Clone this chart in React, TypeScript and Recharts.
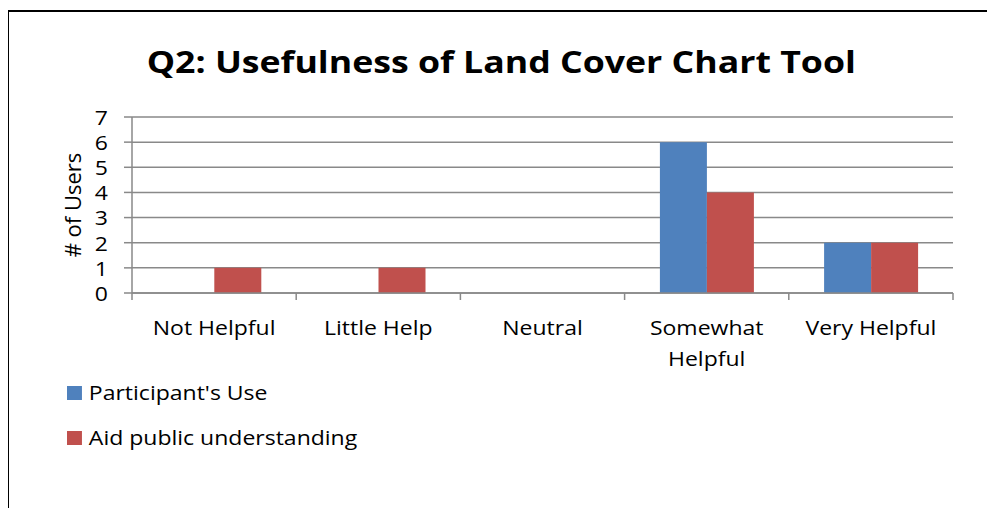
import React from "react";
import { BarChart, Bar, XAxis, YAxis, CartesianGrid } from "recharts";

const categories = ["Not Helpful", "Little Help", "Neutral", "Somewhat Helpful", "Very Helpful"];
const participantUse = [0, 0, 0, 6, 2];
const aidPublic = [1, 1, 0, 4, 2];
const yTicks = [0, 1, 2, 3, 4, 5, 6, 7];

const seriesNames = ["Participant's Use", "Aid public understanding"];
const seriesColors = ["#4F81BD", "#C0504D"];

const data = categories.map((name, i) => ({
  name,
  use: participantUse[i],
  aid: aidPublic[i],
}));

const FONT = "'Open Sans', sans-serif";
const AXIS_GREY = "#898989";
const STRETCH = 1.15; // glyphs are drawn a little wider than the font's natural width
const W = 987;
const H = 500;

// long category names go onto two lines
function splitLabel(s: string) {
  if (s.length <= 14) return [s];
  const i = s.indexOf(" ");
  return [s.slice(0, i), s.slice(i + 1)];
}

function stretchAt(x: number, y: number) {
  return `translate(${x} ${y}) scale(${STRETCH} 1) translate(${-x} ${-y})`;
}

// category label under each band, plus tick marks on the band edges
function CategoryTick(props: any) {
  const { x, y, payload, index, visibleTicksCount } = props;
  const half = payload.offset ?? 0;
  const top = y - 8;
  const lines = splitLabel(String(payload.value));
  return (
    <g>
      <line x1={x - half} y1={top} x2={x - half} y2={top + 7} stroke={AXIS_GREY} strokeWidth={1.5} />
      {index === visibleTicksCount - 1 && (
        <line x1={x + half} y1={top} x2={x + half} y2={top + 7} stroke={AXIS_GREY} strokeWidth={1.5} />
      )}
      <text
        x={x}
        y={top + 42}
        textAnchor="middle"
        fill="#000"
        transform={stretchAt(x, top)}
        style={{ fontFamily: FONT, fontSize: 20 }}
      >
        {lines.map((l, k) => (
          <tspan key={k} x={x} dy={k === 0 ? 0 : 31}>
            {l}
          </tspan>
        ))}
      </text>
    </g>
  );
}

function ValueTick(props: any) {
  const { x, y, payload } = props;
  return (
    <text
      x={x}
      y={y}
      textAnchor="end"
      dominantBaseline="central"
      fill="#000"
      transform={stretchAt(x, y)}
      style={{ fontFamily: FONT, fontSize: 20 }}
    >
      {payload.value}
    </text>
  );
}

function LegendBox() {
  return (
    <div
      style={{
        position: "absolute",
        left: 59,
        top: 362,
        fontFamily: FONT,
        fontSize: 20,
        color: "#000",
        transform: `scaleX(${STRETCH})`,
        transformOrigin: "0 0",
      }}
    >
      {seriesNames.map((n, i) => (
        <div key={n} style={{ display: "flex", alignItems: "center", height: 45, whiteSpace: "nowrap" }}>
          <span
            style={{
              width: 13,
              height: 14,
              background: seriesColors[i],
              marginRight: 6,
              display: "inline-block",
            }}
          />
          <span>{n}</span>
        </div>
      ))}
    </div>
  );
}

export default function App() {
  return (
    <div style={{ position: "relative", width: W, height: H, overflow: "hidden", background: "#fff" }}>
      <div
        style={{
          position: "absolute",
          left: -1,
          top: 2,
          width: W + 20,
          height: H + 20,
          border: "2.5px solid #000",
          boxSizing: "border-box",
        }}
      />
      <div
        style={{
          position: "absolute",
          left: 0,
          top: 32,
          width: W,
          textAlign: "center",
          fontFamily: FONT,
          fontWeight: 700,
          fontSize: 31,
          color: "#000",
          transform: `scaleX(${STRETCH})`,
          transformOrigin: "495px 0",
        }}
      >
        Q2: Usefulness of Land Cover Chart Tool
      </div>
      <div style={{ position: "absolute", left: 0, top: 0 }}>
        <BarChart
          width={W}
          height={H}
          data={data}
          margin={{ top: 109, right: 42, bottom: 185, left: 0 }}
          barCategoryGap="21.5%"
          barGap={0}
        >
          <CartesianGrid vertical={false} stroke={AXIS_GREY} strokeWidth={1.5} />
          <XAxis
            dataKey="name"
            height={30}
            interval={0}
            tickLine={false}
            axisLine={{ stroke: AXIS_GREY, strokeWidth: 1.5 }}
            tick={<CategoryTick />}
          />
          <YAxis
            width={124}
            domain={[0, 7]}
            ticks={yTicks}
            interval={0}
            tickSize={8}
            tickMargin={16}
            tickLine={{ stroke: AXIS_GREY, strokeWidth: 1.5 }}
            axisLine={{ stroke: AXIS_GREY, strokeWidth: 1.5 }}
            tick={<ValueTick />}
            label={{
              content: ({ viewBox }: any) => {
                const cx = viewBox.x + 64;
                const cy = viewBox.y + viewBox.height / 2;
                return (
                  <text
                    x={cx}
                    y={cy}
                    transform={`rotate(-90 ${cx} ${cy})`}
                    textAnchor="middle"
                    dominantBaseline="central"
                    fill="#000"
                    style={{ fontFamily: FONT, fontSize: 22 }}
                  >
                    # of Users
                  </text>
                );
              },
            }}
          />
          <Bar dataKey="use" name={seriesNames[0]} fill={seriesColors[0]} isAnimationActive={false} />
          <Bar dataKey="aid" name={seriesNames[1]} fill={seriesColors[1]} isAnimationActive={false} />
        </BarChart>
      </div>
      <LegendBox />
    </div>
  );
}
